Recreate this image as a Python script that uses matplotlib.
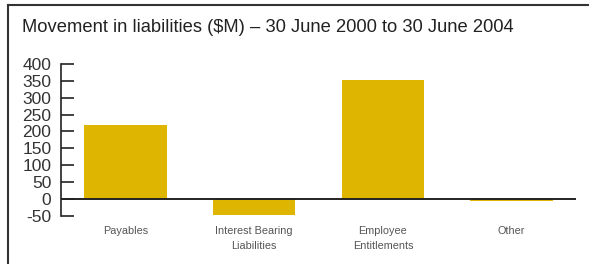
import matplotlib.pyplot as plt

categories = ["Payables", "Interest Bearing\nLiabilities", "Employee\nEntitlements", "Other"]
values = [220, -48, 354, -6]
yticks = [-50, 0, 50, 100, 150, 200, 250, 300, 350, 400]

plt.rcParams['font.family'] = ['Liberation Sans', 'DejaVu Sans']

fig = plt.figure(figsize=(5.89, 2.64), dpi=100)
ax = fig.add_axes([61 / 589, 1 - 215.7 / 264, (576 - 61) / 589, (215.7 - 64) / 264])

x = range(len(categories))
ax.bar(x, values, width=0.64, color="#DEB500", zorder=2)
ax.axhline(0, color="#222222", lw=1.4, zorder=3)

ax.set_xlim(-0.5, 3.5)
ax.set_ylim(-50, 400)
ax.set_yticks(yticks)
ax.set_yticklabels([str(v) for v in yticks], fontsize=12.5, color="#333333")
ax.tick_params(axis='y', direction='in', length=9, width=1.2, color="#222222", pad=7)
ax.set_xticks([])
for i, c in enumerate(categories):
    ax.text(i, -82, c, ha='center', va='top', fontsize=7.8, color="#555555",
            linespacing=1.55, clip_on=False)

for s in ['top', 'right', 'bottom']:
    ax.spines[s].set_visible(False)
ax.spines['left'].set_color("#222222")
ax.spines['left'].set_linewidth(1.2)

fig.text(22 / 589, 1 - 32 / 264, "Movement in liabilities ($M) – 30 June 2000 to 30 June 2004",
         fontsize=13.2, color="#222222", va='baseline')

# frame: top and left border
fig.add_artist(plt.Line2D([8 / 589, 8 / 589], [0, 1 - 5 / 264], transform=fig.transFigure, color="#333333", lw=1.5))
fig.add_artist(plt.Line2D([8 / 589, 1], [1 - 5 / 264, 1 - 5 / 264], transform=fig.transFigure, color="#333333", lw=1.5))

fig.savefig("out.png", dpi=100)
